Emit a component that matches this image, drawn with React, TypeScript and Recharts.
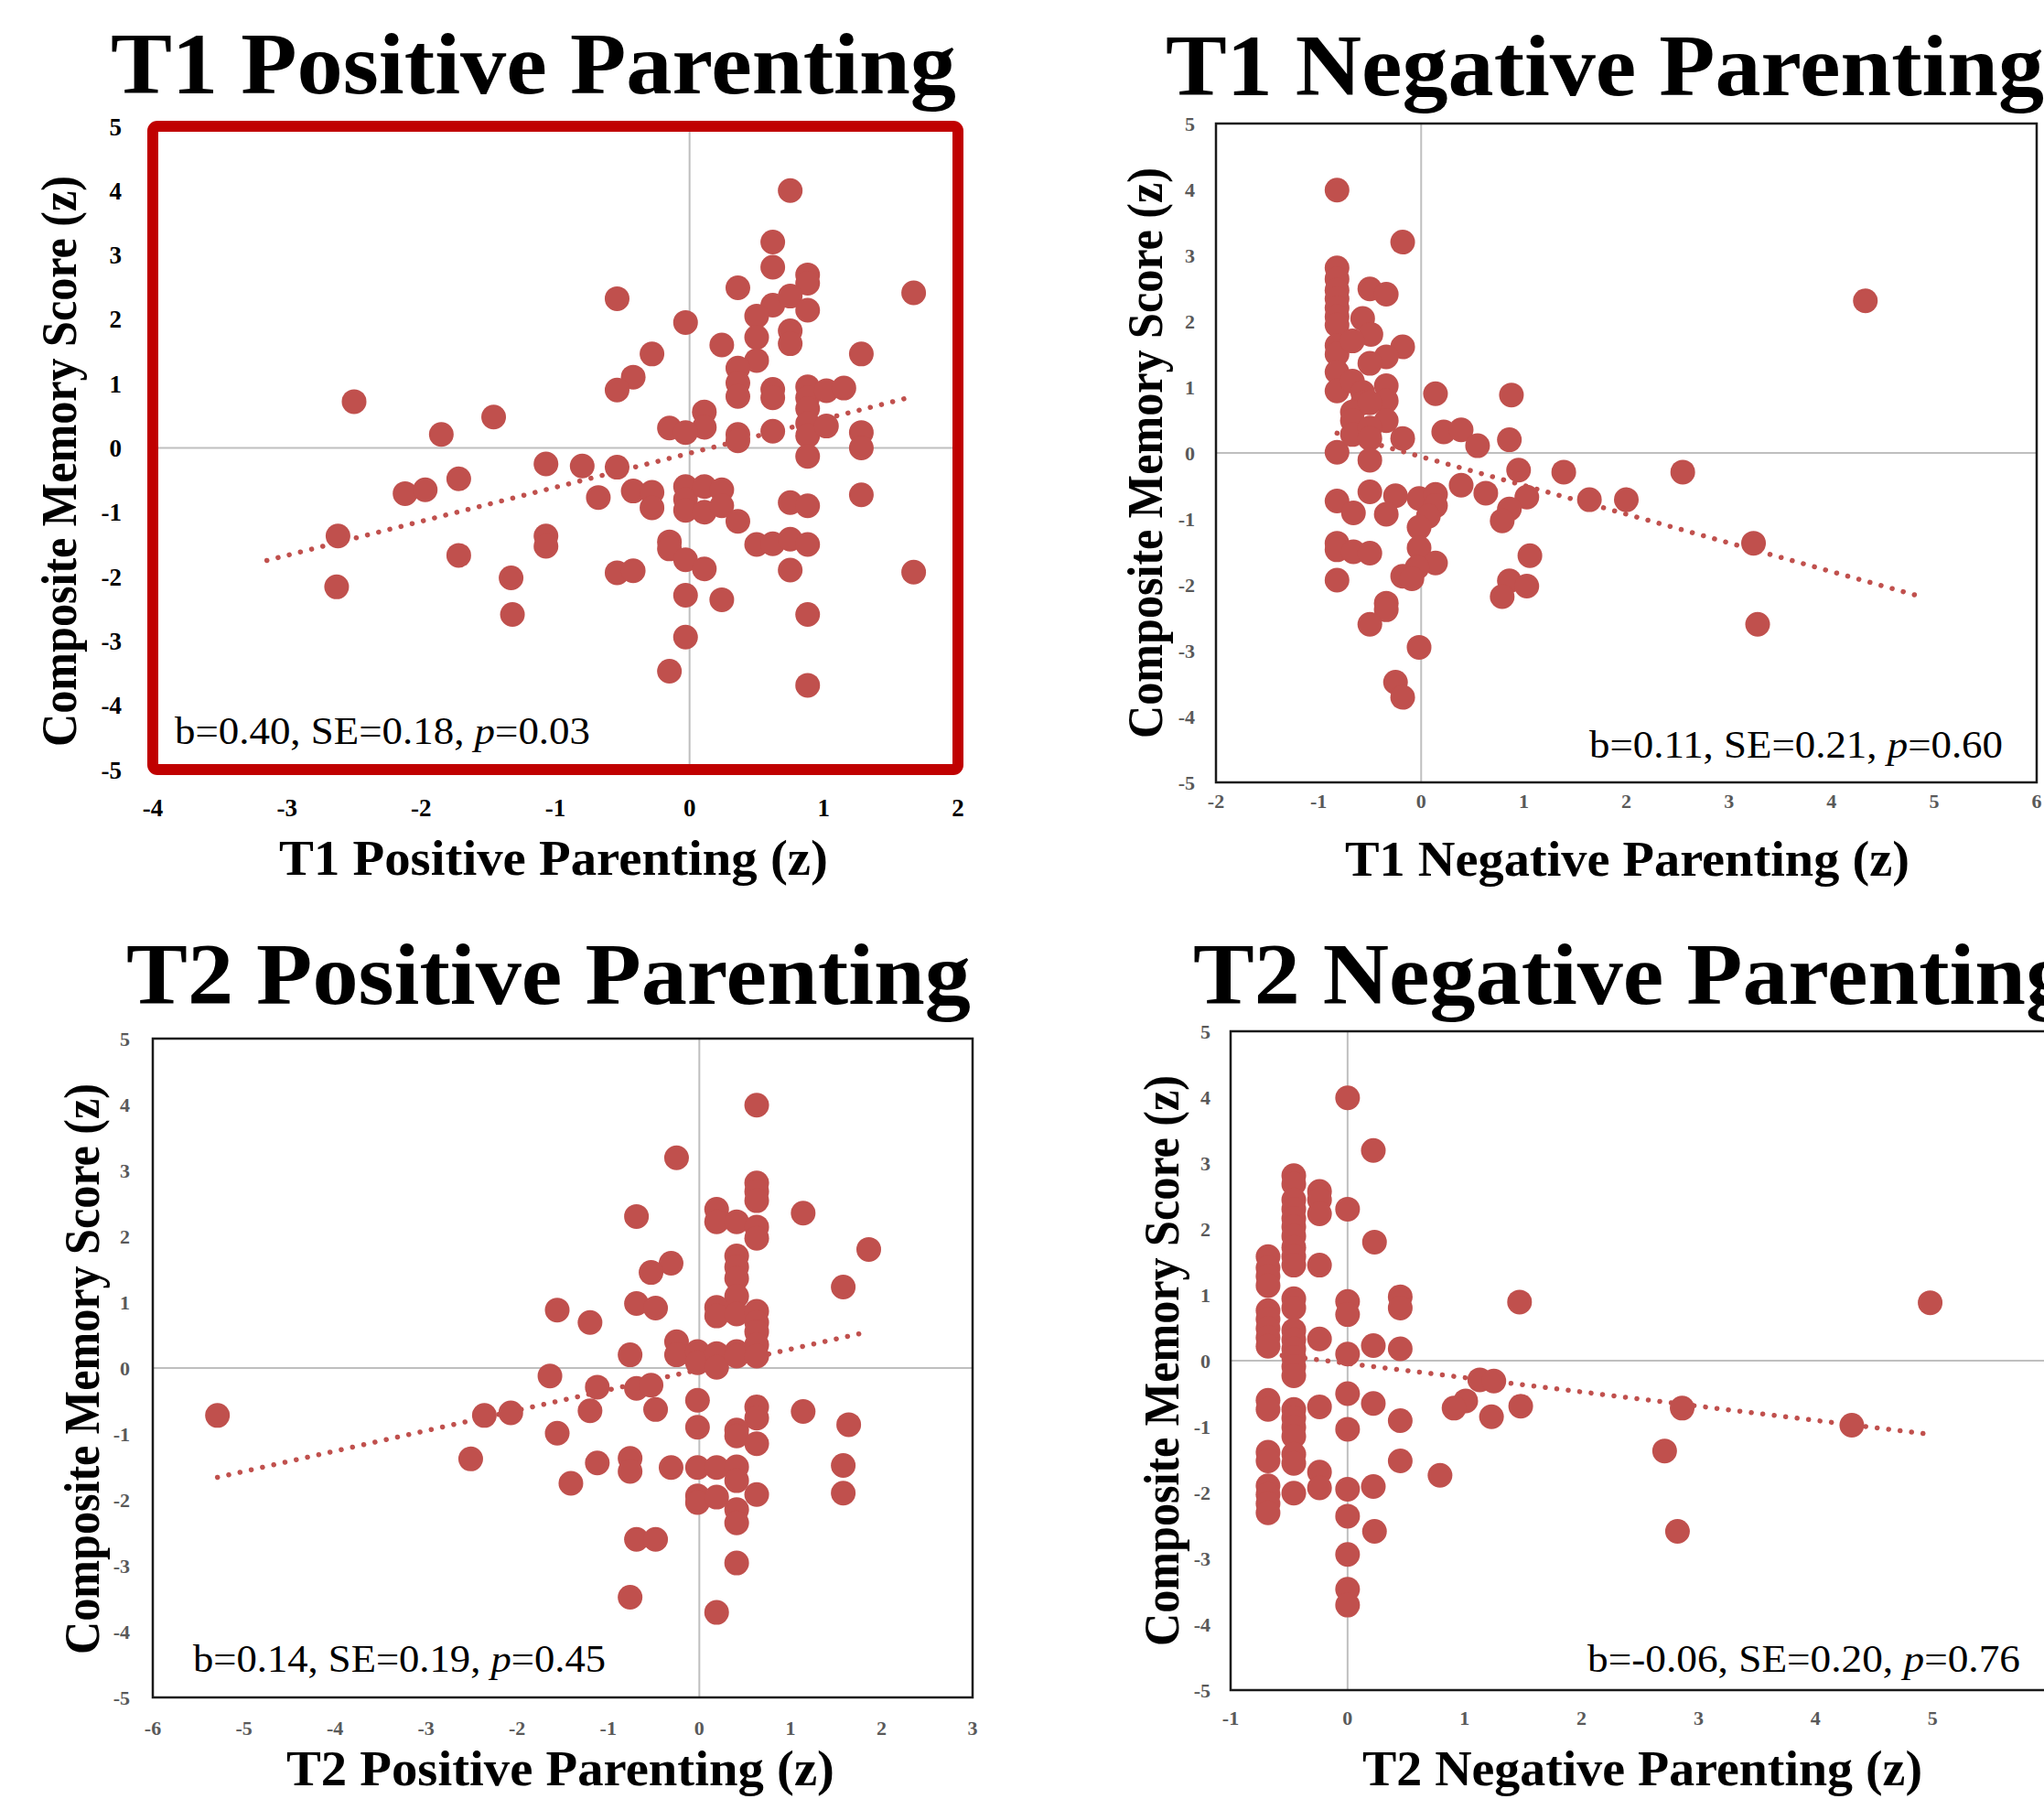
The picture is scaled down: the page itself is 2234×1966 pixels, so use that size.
import { ScatterChart, Scatter, XAxis, YAxis, CartesianGrid, ReferenceLine, ReferenceArea } from 'recharts';

type Pt = [number, number];

const SERIF = '"Liberation Serif", "DejaVu Serif", serif';
const DOT = '#C0504D';

// T1 positive parenting (x) vs composite memory score (y)
const t1PosPoints: Pt[] = [
    [0.75, 4.0], [0.62, 3.2], [0.62, 2.81], [0.88, 2.69], [0.88, 2.56], [1.67, 2.41], [-0.54, 2.32],
    [0.36, 2.49], [0.62, 2.22], [0.75, 2.36], [0.88, 2.14], [0.5, 2.05], [-0.03, 1.95], [0.75, 1.82],
    [0.75, 1.62], [0.5, 1.72], [0.24, 1.6], [-0.28, 1.46], [1.28, 1.46], [0.5, 1.36], [-0.42, 1.1],
    [-0.54, 0.9], [0.36, 1.24], [0.36, 1.01], [0.36, 0.8], [0.62, 0.91], [0.62, 0.78], [0.88, 0.95],
    [0.88, 0.78], [0.88, 0.61], [1.02, 0.89], [1.15, 0.93], [-2.5, 0.72], [-1.46, 0.48], [-1.85, 0.21],
    [0.11, 0.56], [0.11, 0.32], [-0.15, 0.31], [-0.03, 0.24], [0.36, 0.21], [0.36, 0.11], [0.62, 0.26],
    [0.88, 0.38], [0.88, 0.19], [1.02, 0.34], [1.28, 0.24], [1.28, 0.0], [0.88, -0.13], [-1.07, -0.25],
    [-0.8, -0.28], [-0.54, -0.3], [-1.72, -0.48], [-2.12, -0.71], [-1.97, -0.65], [-0.68, -0.77],
    [-0.42, -0.67], [-0.28, -0.69], [-0.28, -0.93], [-0.03, -0.6], [-0.03, -0.8], [-0.03, -0.97],
    [0.11, -0.6], [0.11, -1.0], [0.24, -0.65], [0.24, -0.9], [0.36, -1.14], [1.28, -0.73], [0.75, -0.85],
    [0.88, -0.9], [-2.62, -1.37], [-1.07, -1.37], [-1.07, -1.53], [-0.15, -1.46], [-0.15, -1.57],
    [0.5, -1.5], [0.62, -1.49], [0.75, -1.42], [0.88, -1.5], [-1.72, -1.67], [-0.03, -1.74], [0.11, -1.88],
    [-0.54, -1.94], [-0.42, -1.91], [-1.33, -2.02], [0.75, -1.9], [1.67, -1.93], [-2.63, -2.16],
    [-0.03, -2.29], [0.24, -2.36], [-1.32, -2.59], [0.88, -2.59], [-0.03, -2.94], [-0.15, -3.47], [0.88, -3.69],
];
const t1PosTrend: Pt[] = [[-3.15, -1.75], [1.63, 0.78]];

const t1NegPoints: Pt[] = [
    [-0.82, 3.99], [-0.18, 3.2], [-0.82, 2.81], [-0.82, 2.64], [-0.82, 2.47], [-0.82, 2.34], [-0.82, 2.2],
    [-0.82, 2.07], [-0.82, 1.94], [-0.82, 1.63], [-0.82, 1.5], [-0.82, 1.23], [-0.82, 0.94], [-0.82, 0.01],
    [-0.82, -0.73], [-0.82, -1.37], [-0.82, -1.47], [-0.82, -1.93], [-0.5, 2.49], [-0.34, 2.41], [-0.57, 2.04],
    [-0.49, 1.8], [-0.67, 1.7], [-0.18, 1.61], [-0.34, 1.46], [-0.5, 1.36], [-0.67, 1.09], [-0.57, 0.92],
    [-0.57, 0.76], [-0.67, 0.62], [-0.34, 1.02], [-0.34, 0.79], [-0.5, 0.76], [-0.34, 0.49], [-0.67, 0.49],
    [-0.67, 0.28], [-0.5, 0.38], [-0.5, 0.22], [-0.18, 0.22], [0.14, 0.9], [0.88, 0.88], [0.22, 0.32],
    [0.39, 0.35], [0.55, 0.11], [0.86, 0.2], [-0.5, -0.11], [0.95, -0.26], [1.39, -0.29], [2.55, -0.29],
    [0.39, -0.49], [-0.5, -0.59], [-0.25, -0.65], [0.63, -0.61], [-0.02, -0.69], [0.14, -0.63], [0.14, -0.8],
    [1.03, -0.67], [1.64, -0.71], [2.0, -0.71], [-0.66, -0.91], [-0.34, -0.93], [0.86, -0.85], [0.79, -1.03],
    [0.07, -0.96], [-0.02, -1.13], [-0.02, -1.44], [3.24, -1.37], [-0.66, -1.5], [-0.5, -1.52], [1.06, -1.56],
    [0.14, -1.67], [-0.04, -1.74], [-0.18, -1.87], [-0.09, -1.91], [0.86, -1.94], [1.03, -2.02], [0.79, -2.18],
    [-0.34, -2.28], [-0.34, -2.38], [-0.5, -2.6], [3.28, -2.6], [-0.02, -2.95], [-0.25, -3.48], [-0.18, -3.71],
    [4.33, 2.31],
];
const t1NegTrend: Pt[] = [[-0.82, 0.3], [4.87, -2.18]];

const t2PosPoints: Pt[] = [
    [-5.29, -0.72], [0.63, 3.99], [-0.25, 3.19], [0.63, 2.81], [0.63, 2.68], [0.63, 2.54], [1.14, 2.35],
    [-0.69, 2.3], [0.19, 2.41], [0.19, 2.22], [0.41, 2.22], [0.63, 2.14], [0.63, 1.97], [1.86, 1.8],
    [0.41, 1.7], [0.41, 1.53], [0.41, 1.36], [-0.31, 1.59], [-0.53, 1.45], [1.58, 1.23], [0.41, 1.09],
    [-0.69, 0.98], [-0.48, 0.91], [-1.56, 0.88], [-1.2, 0.69], [0.19, 0.92], [0.19, 0.79], [0.41, 0.82],
    [0.63, 0.86], [0.63, 0.69], [0.63, 0.55], [-0.25, 0.4], [-0.76, 0.2], [-0.25, 0.2], [-0.02, 0.25],
    [-0.02, 0.08], [0.19, 0.22], [0.19, 0.01], [0.41, 0.25], [0.41, 0.18], [0.63, 0.35], [0.63, 0.18],
    [-1.64, -0.12], [-1.12, -0.29], [-0.69, -0.31], [-0.53, -0.26], [-0.02, -0.49], [-2.36, -0.72],
    [-2.07, -0.68], [-1.2, -0.65], [-0.48, -0.63], [0.63, -0.59], [0.63, -0.76], [1.14, -0.66], [1.64, -0.86],
    [-1.56, -0.99], [-0.02, -0.9], [0.41, -0.94], [0.41, -1.03], [0.63, -1.15], [-2.51, -1.38], [-1.12, -1.44],
    [-0.76, -1.37], [-0.76, -1.57], [-0.31, -1.51], [-0.02, -1.51], [0.19, -1.51], [0.41, -1.5], [0.41, -1.71],
    [1.58, -1.48], [-1.41, -1.75], [-0.02, -1.94], [-0.02, -2.04], [0.19, -1.96], [0.63, -1.92], [1.58, -1.9],
    [0.41, -2.15], [0.41, -2.35], [-0.69, -2.6], [-0.48, -2.6], [0.41, -2.96], [-0.76, -3.48], [0.19, -3.71],
];
const t2PosTrend: Pt[] = [[-5.29, -1.66], [1.79, 0.53]];

const t2NegPoints: Pt[] = [
    [0, 3.99], [0.22, 3.19],
    [-0.46, 2.81], [-0.46, 2.68], [-0.46, 2.44], [-0.46, 2.3], [-0.46, 2.16], [-0.46, 2.03], [-0.46, 1.89],
    [-0.46, 1.72], [-0.46, 1.58], [-0.46, 1.45], [-0.46, 0.94], [-0.46, 0.8], [-0.46, 0.46], [-0.46, 0.32],
    [-0.46, 0.18], [-0.46, 0.05], [-0.46, -0.09], [-0.46, -0.23], [-0.46, -0.74], [-0.46, -0.87],
    [-0.46, -1.01], [-0.46, -1.15], [-0.46, -1.42], [-0.46, -1.56], [-0.46, -2.01],
    [-0.24, 2.57], [-0.24, 2.44], [-0.24, 2.23], [0, 2.3], [0.23, 1.8], [-0.24, 1.45],
    [-0.68, 1.58], [-0.68, 1.41], [-0.68, 1.28], [-0.68, 1.14], [-0.68, 0.76], [-0.68, 0.63], [-0.68, 0.49],
    [-0.68, 0.35], [-0.68, 0.22], [-0.68, -0.6], [-0.68, -0.74], [-0.68, -1.39], [-0.68, -1.52],
    [-0.68, -1.9], [-0.68, -2.03], [-0.68, -2.17], [-0.68, -2.31],
    [0, 0.9], [0, 0.7], [0.45, 0.97], [0.45, 0.8], [1.47, 0.89], [4.98, 0.88], [-0.24, 0.33], [0.22, 0.23],
    [0.45, 0.18], [0, 0.1], [1.13, -0.29], [1.25, -0.31], [0, -0.5], [-0.24, -0.7], [0.22, -0.65],
    [1.01, -0.61], [0.91, -0.72], [1.48, -0.69], [0.45, -0.91], [1.23, -0.85], [2.86, -0.72], [4.31, -0.98],
    [0, -1.04], [0.45, -1.52], [2.71, -1.37], [0.79, -1.74], [-0.24, -1.69], [-0.24, -1.93], [0, -1.95],
    [0.22, -1.91], [0, -2.36], [0.23, -2.59], [2.82, -2.59], [0, -2.94], [0, -3.47], [0, -3.71],
];
const t2NegTrend: Pt[] = [[-0.56, 0.08], [4.94, -1.11]];

const t1PosXTicks = [-4, -3, -2, -1, 0, 1, 2];
const t1NegXTicks = [-2, -1, 0, 1, 2, 3, 4, 5, 6];
const t2PosXTicks = [-6, -5, -4, -3, -2, -1, 0, 1, 2, 3];
// the 6 tick of this axis falls past the page edge, so only -1..5 get labels
const t2NegXTicks = [-1, 0, 1, 2, 3, 4, 5];
const t2NegXMax = 6;
const yTicks = [-5, -4, -3, -2, -1, 0, 1, 2, 3, 4, 5];

interface Box {
    left: number;
    top: number;
    right: number;
    bottom: number;
}

interface PanelProps {
    points: Pt[];
    trend: Pt[];
    xTicks: number[];
    xMax?: number;
    box: Box;
    tickColor: string;
    tickSize: number;
    yGap: number;
    xGap: number;
    red?: boolean;
}

const Dot = (props: any) => <circle cx={props.cx} cy={props.cy} r={13.5} fill={DOT} />;

const Panel = ({ points, trend, xTicks, xMax, box, tickColor, tickSize, yGap, xGap, red }: PanelProps) => {
    const padL = 120;
    const padT = 20;
    const padR = 20;
    const padB = 70;
    const width = box.right - box.left + padL + padR;
    const height = box.bottom - box.top + padT + padB;
    const data = points.map(([x, y]) => ({ x, y }));
    const xMin = xTicks[0];
    const xTop = xMax ?? xTicks[xTicks.length - 1];
    const tick = { fill: tickColor, fontSize: tickSize, fontWeight: 'bold', fontFamily: SERIF };

    return (
        <div style={{ position: 'absolute', left: box.left - padL, top: box.top - padT }}>
            <ScatterChart width={width} height={height} margin={{ top: padT, right: padR, bottom: 0, left: 0 }}>
                <CartesianGrid horizontalValues={[0]} verticalValues={[0]} stroke="#bfbfbf" strokeWidth={2} />
                <XAxis
                    type="number"
                    dataKey="x"
                    domain={[xMin, xTop]}
                    ticks={xTicks}
                    interval={0}
                    axisLine={false}
                    tickLine={false}
                    tickSize={0}
                    tickMargin={xGap}
                    height={padB}
                    tick={tick}
                />
                <YAxis
                    type="number"
                    dataKey="y"
                    domain={[-5, 5]}
                    ticks={yTicks}
                    interval={0}
                    axisLine={false}
                    tickLine={false}
                    tickSize={0}
                    tickMargin={yGap}
                    width={padL}
                    tick={tick}
                />
                <Scatter data={data} shape={Dot} isAnimationActive={false} />
                <ReferenceLine
                    segment={[
                        { x: trend[0][0], y: trend[0][1] },
                        { x: trend[1][0], y: trend[1][1] },
                    ]}
                    stroke={DOT}
                    strokeWidth={5.5}
                    strokeDasharray="0.1 12.5"
                    strokeLinecap="round"
                />
                <ReferenceArea
                    x1={xMin}
                    x2={xTop}
                    y1={-5}
                    y2={5}
                    fill="none"
                    fillOpacity={0}
                    stroke={red ? '#C00000' : '#1a1a1a'}
                    strokeWidth={red ? 12 : 2.5}
                    strokeOpacity={1}
                    radius={red ? 5 : 0}
                />
            </ScatterChart>
        </div>
    );
};

const titleStyle = { fontFamily: SERIF, fontWeight: 'bold' as const, fontSize: 96, fill: '#000' };
const labelStyle = { fontFamily: SERIF, fontWeight: 'bold' as const, fontSize: 54, fill: '#000' };
const noteStyle = { fontFamily: SERIF, fontSize: 42, fill: '#000' };

const YLabel = ({ x, y }: { x: number; y: number }) => (
    <text
        transform={`translate(${x},${y}) rotate(-90)`}
        textAnchor="middle"
        textLength={624}
        lengthAdjust="spacingAndGlyphs"
        style={labelStyle}
    >
        Composite Memory Score (z)
    </text>
);

const Note = ({ x, y, len, anchor, b, se, p }: any) => (
    <text x={x} y={y} textAnchor={anchor} textLength={len} lengthAdjust="spacingAndGlyphs" style={noteStyle}>
        b={b}, SE={se}, <tspan fontStyle="italic">p</tspan>={p}
    </text>
);

const App = () => {
    return (
        <div
            style={{
                position: 'absolute',
                left: 0,
                top: 0,
                width: 2234,
                height: 1966,
                overflow: 'hidden',
                background: '#fff',
            }}
        >
            <Panel
                points={t1PosPoints}
                trend={t1PosTrend}
                xTicks={t1PosXTicks}
                box={{ left: 167, top: 138, right: 1047, bottom: 841 }}
                tickColor="#000"
                tickSize={27}
                yGap={34}
                xGap={32}
                red
            />
            <Panel
                points={t1NegPoints}
                trend={t1NegTrend}
                xTicks={t1NegXTicks}
                box={{ left: 1329, top: 135, right: 2226, bottom: 855 }}
                tickColor="#595959"
                tickSize={22}
                yGap={23}
                xGap={12}
            />
            <Panel
                points={t2PosPoints}
                trend={t2PosTrend}
                xTicks={t2PosXTicks}
                box={{ left: 167, top: 1135, right: 1063, bottom: 1855 }}
                tickColor="#595959"
                tickSize={22}
                yGap={25}
                xGap={25}
            />
            <Panel
                points={t2NegPoints}
                trend={t2NegTrend}
                xTicks={t2NegXTicks}
                xMax={t2NegXMax}
                box={{ left: 1345, top: 1127, right: 2240, bottom: 1847 }}
                tickColor="#595959"
                tickSize={22}
                yGap={22}
                xGap={22}
            />
            <svg
                width={2234}
                height={1966}
                style={{ position: 'absolute', left: 0, top: 0, pointerEvents: 'none' }}
            >
                <text x={121} y={102} textLength={924} lengthAdjust="spacingAndGlyphs" style={titleStyle}>
                    T1 Positive Parenting
                </text>
                <text x={1274} y={104} textLength={960} lengthAdjust="spacingAndGlyphs" style={titleStyle}>
                    T1 Negative Parenting
                </text>
                <text x={138} y={1097} textLength={923} lengthAdjust="spacingAndGlyphs" style={titleStyle}>
                    T2 Positive Parenting
                </text>
                <text x={1304} y={1097} textLength={960} lengthAdjust="spacingAndGlyphs" style={titleStyle}>
                    T2 Negative Parenting
                </text>

                <text x={305} y={956} textLength={600} lengthAdjust="spacingAndGlyphs" style={labelStyle}>
                    T1 Positive Parenting (z)
                </text>
                <text x={1470} y={957} textLength={617} lengthAdjust="spacingAndGlyphs" style={labelStyle}>
                    T1 Negative Parenting (z)
                </text>
                <text x={313} y={1951} textLength={599} lengthAdjust="spacingAndGlyphs" style={labelStyle}>
                    T2 Positive Parenting (z)
                </text>
                <text x={1489} y={1951} textLength={612} lengthAdjust="spacingAndGlyphs" style={labelStyle}>
                    T2 Negative Parenting (z)
                </text>

                <YLabel x={83} y={504} />
                <YLabel x={1270} y={495} />
                <YLabel x={108} y={1496} />
                <YLabel x={1288} y={1487} />

                <Note x={191} y={813} len={454} anchor="start" b="0.40" se="0.18" p="0.03" />
                <Note x={2189} y={828} len={452} anchor="end" b="0.11" se="0.21" p="0.60" />
                <Note x={211} y={1827} len={451} anchor="start" b="0.14" se="0.19" p="0.45" />
                <Note x={2208} y={1827} len={473} anchor="end" b="-0.06" se="0.20" p="0.76" />
            </svg>
        </div>
    );
};

export default App;
